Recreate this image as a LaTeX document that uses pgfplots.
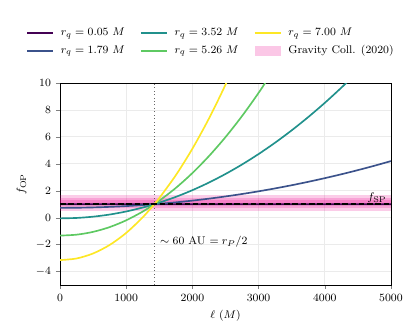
\documentclass[border=0pt]{standalone}
\usepackage{pgfplots}
\pgfplotsset{compat=1.18}

\definecolor{vir0}{HTML}{440154}
\definecolor{vir1}{HTML}{3B528B}
\definecolor{vir2}{HTML}{21918C}
\definecolor{vir3}{HTML}{5EC962}
\definecolor{vir4}{HTML}{FDE725}
\definecolor{gridgray}{HTML}{EBEBEB}

\begin{document}
\begin{tikzpicture}
\useasboundingbox (-43.2bp,-33.84bp) rectangle (255.6bp,205.2bp);
\begin{axis}[
    scale only axis,
    width=238.3bp,
    height=145.4bp,
    xmin=0, xmax=5000,
    ymin=-5, ymax=10,
    xtick={0,1000,2000,3000,4000,5000},
    ytick={-4,-2,0,2,4,6,8,10},
    tick align=outside,
    tick pos=left,
    major tick length=3pt,
    xmajorgrids=true, ymajorgrids=true,
    grid style={gridgray, line width=0.6pt},
    tick label style={font=\footnotesize},
    label style={font=\footnotesize},
    xlabel={$\ell\ (M)$},
    ylabel={$f_{\rm OP}$},
    xticklabel style={/pgf/number format/1000 sep={}},
    scaled x ticks=false,
    legend columns=3,
    legend style={at={(axis description cs:-0.115,1.30)}, anchor=north west,
                  draw=none, fill=none, font=\footnotesize,
                  /tikz/every even column/.append style={column sep=0pt},
                  row sep=1.5pt, cells={anchor=west}},
    legend image code/.code={\draw[#1] (0bp,0bp) -- (18.7bp,0bp);},
]
% Gravity band (1, 2, 3 sigma)
\addplot[draw=none, fill=magenta, fill opacity=0.2, forget plot]
    coordinates {(0,0.53) (5000,0.53) (5000,1.67) (0,1.67)} -- cycle;
\addplot[draw=none, fill=magenta, fill opacity=0.2, forget plot]
    coordinates {(0,0.72) (5000,0.72) (5000,1.48) (0,1.48)} -- cycle;
\addplot[draw=none, fill=magenta, fill opacity=0.2, forget plot]
    coordinates {(0,0.91) (5000,0.91) (5000,1.29) (0,1.29)} -- cycle;

% vertical r_P/2
\addplot[black!60, dotted, line width=0.5pt, forget plot]
    coordinates {(1425,-5) (1425,10)};

\addplot[vir0, line width=1.2pt, forget plot]
    coordinates {(0,1.000) (2500,1.000) (5000,1.002)};
\addplot[vir1, line width=1.2pt, smooth, forget plot] coordinates {
    (0,0.730)(250,0.738)(500,0.762)(750,0.803)(1000,0.861)(1250,0.937)
    (1425,1.000)(1500,1.030)(1750,1.140)(2000,1.268)(2250,1.414)(2500,1.578)
    (2750,1.759)(3000,1.958)(3250,2.176)(3500,2.411)(3750,2.664)(4000,2.936)
    (4250,3.225)(4500,3.533)(4750,3.859)(5000,4.204)};
\addplot[vir2, line width=1.2pt, smooth, forget plot] coordinates {
    (0,-0.050)(250,-0.020)(500,0.075)(750,0.234)(1000,0.461)(1250,0.754)
    (1425,1.000)(1500,1.116)(1750,1.545)(2000,2.043)(2250,2.610)(2500,3.246)
    (2750,3.951)(3000,4.727)(3250,5.572)(3500,6.487)(3750,7.473)(4000,8.528)
    (4250,9.655)(4500,10.851)};
\addplot[vir3, line width=1.2pt, smooth, forget plot] coordinates {
    (0,-1.330)(250,-1.262)(500,-1.053)(750,-0.699)(1000,-0.196)(1250,0.455)
    (1425,1.000)(1500,1.256)(1750,2.210)(2000,3.315)(2250,4.573)(2500,5.984)
    (2750,7.549)(3000,9.271)(3250,11.145)};
\addplot[vir4, line width=1.2pt, smooth, forget plot] coordinates {
    (0,-3.150)(250,-3.030)(500,-2.657)(750,-2.026)(1000,-1.131)(1250,0.029)
    (1425,1.000)(1500,1.457)(1750,3.155)(2000,5.123)(2250,7.364)(2500,9.877)
    (2750,12.664)};

% f_SP
\addplot[black, line width=1.2pt, dash pattern=on 4pt off 2pt, forget plot]
    coordinates {(0,1) (5000,1)};

\node[font=\footnotesize, anchor=base] at (axis cs:4790,1.25) {$f_{\rm SP}$};
\node[font=\footnotesize, anchor=west] at (axis cs:1440,-1.8) {$\sim 60$ AU $= r_P/2$};

% legend in matplotlib column order
\addlegendimage{vir0, line width=1.2pt}
\addlegendentry{\makebox[58bp][l]{\hspace{3bp}$r_q = 0.05\ M$}}
\addlegendimage{vir2, line width=1.2pt}
\addlegendentry{\makebox[58bp][l]{\hspace{3bp}$r_q = 3.52\ M$}}
\addlegendimage{vir4, line width=1.2pt}
\addlegendentry{\hspace{3bp}$r_q = 7.00\ M$}
\addlegendimage{vir1, line width=1.2pt}
\addlegendentry{\makebox[58bp][l]{\hspace{3bp}$r_q = 1.79\ M$}}
\addlegendimage{vir3, line width=1.2pt}
\addlegendentry{\makebox[58bp][l]{\hspace{3bp}$r_q = 5.26\ M$}}
\addlegendimage{legend image code/.code={\fill[draw=none, fill=magenta, fill opacity=0.22] (0bp,-3.6bp) rectangle (18.7bp,3.6bp);}}
\addlegendentry{\hspace{3bp}Gravity Coll. (2020)}
\end{axis}
\end{tikzpicture}
\end{document}
